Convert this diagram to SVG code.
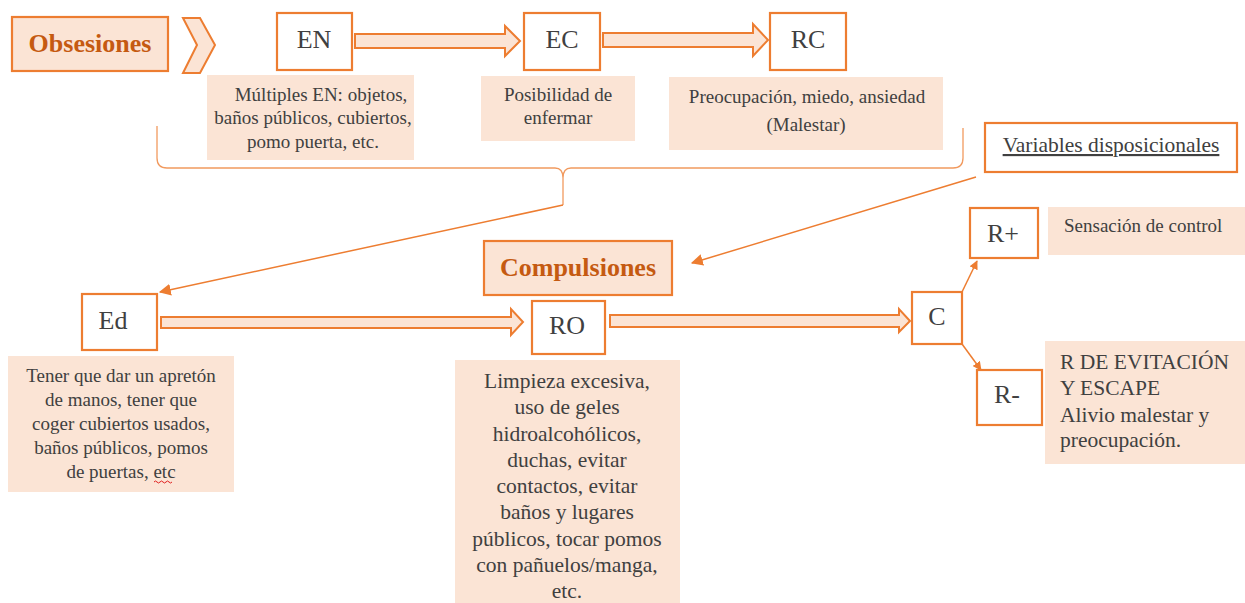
<svg xmlns="http://www.w3.org/2000/svg" width="1245" height="603" viewBox="0 0 1245 603">
<defs>
<style>
.box{fill:#fff;stroke:#ED7D31;stroke-width:2.2}
.hdr{fill:#FBE4D5;stroke:#ED7D31;stroke-width:2.2}
.desc{fill:#FBE4D5;stroke:none}
.blk{fill:#FBE4D5;stroke:#ED7D31;stroke-width:2;stroke-linejoin:miter}
text{font-family:'Liberation Serif','Times New Roman','DejaVu Serif',serif}
.lbl{font-size:26px;fill:#404040;text-anchor:middle}
.ttl{font-size:26px;font-weight:bold;fill:#C55A11;text-anchor:middle}
.txt{font-size:19px;fill:#404040;text-anchor:middle}
.big{font-size:21.5px}
.txl{font-size:21.5px;fill:#404040}
.ln{fill:none;stroke:#ED7D31;stroke-width:1.5}
.brace{fill:none;stroke:#F19A5F;stroke-width:1.3}
</style>
<marker id="ah" viewBox="0 0 10 10" refX="9" refY="5" markerWidth="9" markerHeight="9" markerUnits="userSpaceOnUse" orient="auto"><path d="M0,0 L10,5 L0,10 z" fill="#ED7D31"/></marker>
<marker id="ah2" viewBox="0 0 10 10" refX="9" refY="5" markerWidth="12" markerHeight="12" markerUnits="userSpaceOnUse" orient="auto"><path d="M0,0 L10,5 L0,10 z" fill="#ED7D31"/></marker>
</defs>

<g id="connectors">
<path class="blk" d="M355,34 L505,34 L505,26 L520,41 L505,56 L505,48 L355,48 z"/>
<path class="blk" d="M603,33 L753,33 L753,24 L768,40 L753,56 L753,47 L603,47 z"/>
<path class="blk" d="M161,317 L511,317 L511,309 L523,322 L511,335 L511,328 L161,328 z"/>
<path class="blk" d="M610,315 L899,315 L899,309 L910,321 L899,332 L899,327 L610,327 z"/>
<path class="brace" d="M157,126 L157,158 Q157,168 167,168 L555,168 Q563,168 563,178 L563,205 M563,205 L563,178 Q563,168 571,168 L953,168 Q963,168 963,158 L963,128"/>
<line class="ln" x1="563" y1="205" x2="160" y2="292" marker-end="url(#ah2)"/>
<line class="ln" x1="976" y1="177" x2="692" y2="263" marker-end="url(#ah2)"/>
<line class="ln" x1="962" y1="292" x2="977" y2="261" marker-end="url(#ah)"/>
<line class="ln" x1="962" y1="344" x2="981" y2="370" marker-end="url(#ah)"/>
</g>

<g id="obsesiones">
<rect class="hdr" x="12" y="17" width="156" height="54"/>
<text class="ttl" x="90" y="52">Obsesiones</text>
</g>
<g id="chevron">
<path class="blk" d="M183,18 L200,18 L215,45 L200,73 L183,73 L197,45 z"/>
</g>

<g id="EN">
<rect class="box" x="277" y="13" width="75" height="57"/>
<text class="lbl" x="314" y="48">EN</text>
</g>
<g id="EN-desc">
<rect class="desc" x="207" y="75" width="207" height="85"/>
<text class="txt" x="321" y="101">Múltiples EN: objetos,</text>
<text class="txt" x="313" y="124">baños públicos, cubiertos,</text>
<text class="txt" x="313" y="148">pomo puerta, etc.</text>
</g>

<g id="EC">
<rect class="box" x="524" y="13" width="76" height="57"/>
<text class="lbl" x="562" y="48">EC</text>
</g>
<g id="EC-desc">
<rect class="desc" x="481" y="76" width="154" height="65"/>
<text class="txt" x="558" y="101">Posibilidad de</text>
<text class="txt" x="558" y="124">enfermar</text>
</g>

<g id="RC">
<rect class="box" x="770" y="13" width="76" height="57"/>
<text class="lbl" x="808" y="48">RC</text>
</g>
<g id="RC-desc">
<rect class="desc" x="669" y="77" width="274" height="73"/>
<text class="txt" x="807" y="103">Preocupación, miedo, ansiedad</text>
<text class="txt" x="806" y="131">(Malestar)</text>
</g>

<g id="variables">
<rect class="box" x="985" y="123" width="252" height="49"/>
<text class="txt big" x="1111" y="152" style="text-decoration:underline">Variables disposicionales</text>
</g>

<g id="compulsiones">
<rect class="hdr" x="484" y="241" width="188" height="54"/>
<text class="ttl" x="578" y="276">Compulsiones</text>
</g>

<g id="Ed">
<rect class="box" x="82" y="294" width="75" height="56"/>
<text class="lbl" x="113" y="329">Ed</text>
</g>
<g id="Ed-desc">
<rect class="desc" x="8" y="356" width="226" height="136"/>
<text class="txt" x="121" y="382">Tener que dar un apretón</text>
<text class="txt" x="121" y="406">de manos, tener que</text>
<text class="txt" x="121" y="430">coger cubiertos usados,</text>
<text class="txt" x="121" y="454">baños públicos, pomos</text>
<text class="txt" x="121" y="478">de puertas, etc</text>
<path d="M154,482 q1.5,-2 3,0 t3,0 t3,0 t3,0 t3,0 t3,0" fill="none" stroke="#E02020" stroke-width="1"/>
</g>

<g id="RO">
<rect class="box" x="532" y="301" width="73" height="53"/>
<text class="lbl" x="567" y="334">RO</text>
</g>
<g id="RO-desc">
<rect class="desc" x="455" y="360" width="225" height="243"/>
<text class="txt big" x="567" y="388">Limpieza excesiva,</text>
<text class="txt big" x="567" y="414">uso de geles</text>
<text class="txt big" x="567" y="441">hidroalcohólicos,</text>
<text class="txt big" x="567" y="467">duchas, evitar</text>
<text class="txt big" x="567" y="493">contactos, evitar</text>
<text class="txt big" x="567" y="519">baños y lugares</text>
<text class="txt big" x="567" y="546">públicos, tocar pomos</text>
<text class="txt big" x="567" y="572">con pañuelos/manga,</text>
<text class="txt big" x="567" y="598">etc.</text>
</g>

<g id="C">
<rect class="box" x="912" y="292" width="50" height="52"/>
<text class="lbl" x="937" y="325">C</text>
</g>

<g id="Rplus">
<rect class="box" x="970" y="208" width="68" height="50"/>
<text class="lbl" x="1003" y="242">R+</text>
</g>
<g id="Rplus-desc">
<rect class="desc" x="1048" y="207" width="197" height="48"/>
<text class="txl" x="1064" y="232" style="font-size:19px">Sensación de control</text>
</g>

<g id="Rminus">
<rect class="box" x="977" y="370" width="65" height="55"/>
<text class="lbl" x="1007" y="403">R-</text>
</g>
<g id="Rminus-desc">
<rect class="desc" x="1045" y="341" width="200" height="123"/>
<text class="txl" x="1060" y="369">R DE EVITACIÓN</text>
<text class="txl" x="1060" y="395">Y ESCAPE</text>
<text class="txl" x="1060" y="422">Alivio malestar y</text>
<text class="txl" x="1060" y="447">preocupación.</text>
</g>
</svg>
